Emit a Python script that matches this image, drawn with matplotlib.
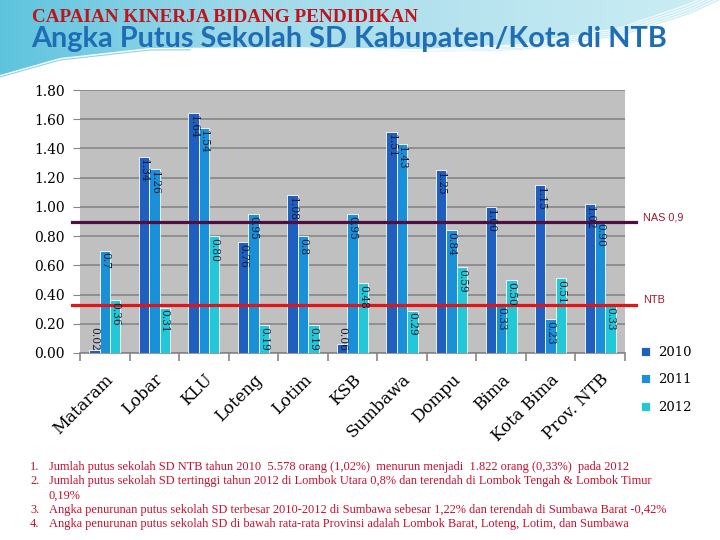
import numpy as np
import matplotlib
matplotlib.use('Agg')
import matplotlib.pyplot as plt
from matplotlib.colors import LinearSegmentedColormap

# data (strings kept as printed on the bars)
regions = ['Mataram', 'Lobar', 'KLU', 'Loteng', 'Lotim', 'KSB', 'Sumbawa',
           'Dompu', 'Bima', 'Kota Bima', 'Prov. NTB']
lab2010 = ['0.02', '1.34', '1.64', '0.76', '1.08', '0.06', '1.51', '1.25', '1.00', '1.15', '1.02']
lab2011 = ['0.7', '1.26', '1.54', '0.95', '0.8', '0.95', '1.43', '0.84', '0.33', '0.23', '0.90']
lab2012 = ['0.36', '0.31', '0.80', '0.19', '0.19', '0.48', '0.29', '0.59', '0.50', '0.51', '0.33']
years = ['2010', '2011', '2012']
nas_level = 0.9
ntb_level = 0.33

notes = [
    ('1.', 'Jumlah putus sekolah SD NTB tahun 2010  5.578 orang (1,02%)  menurun menjadi  1.822 orang (0,33%)  pada 2012'),
    ('2.', 'Jumlah putus sekolah SD tertinggi tahun 2012 di Lombok Utara 0,8% dan terendah di Lombok Tengah & Lombok Timur'),
    ('', '0,19%'),
    ('3.', 'Angka penurunan putus sekolah SD terbesar 2010-2012 di Sumbawa sebesar 1,22% dan terendah di Sumbawa Barat -0,42%'),
    ('4.', 'Angka penurunan putus sekolah SD di bawah rata-rata Provinsi adalah Lombok Barat, Loteng, Lotim, dan Sumbawa'),
]

colors = ['#1f5fbf', '#1a90d8', '#22c8d8']
serif = 'DejaVu Serif'

fig = plt.figure(figsize=(7.2, 5.4), dpi=100)

# background swoosh at the top (decoration only)
bg = fig.add_axes([0, 0, 1, 1], zorder=-5)
bg.set_xlim(0, 720)
bg.set_ylim(540, 0)
bg.axis('off')
cmap = LinearSegmentedColormap.from_list('sky', ['#5ec4de', '#9fd9ea', '#b8e4ef', '#cdeef5'])
grad = np.linspace(0, 1, 256).reshape(1, -1)
im = bg.imshow(grad, extent=[0, 720, 80, 0], cmap=cmap, aspect='auto')
xs = np.linspace(0, 720, 300)
edge = np.interp(xs, [0, 60, 150, 300, 420, 520, 620, 690, 720],
                 [75, 58, 48, 47, 52, 50, 36, 14, 0])
clip = bg.fill_between(xs, 0, edge, color='none')
im.set_clip_path(clip.get_paths()[0], transform=bg.transData)
right = xs > 330
for k in range(4):
    off = 2 + 3 * k
    bg.plot(xs[right], edge[right] - off * (xs[right] - 330) / 390, color='white', lw=0.8, alpha=0.85)
bg.plot(xs[:80], edge[:80] + 2, color='#8fd3e6', lw=0.8)

ax = fig.add_axes([80 / 720, 1 - 353 / 540, 545 / 720, 263 / 540])
ax.set_facecolor('#c0c0c0')
x = np.arange(len(regions))
w = 0.21
series = [lab2010, lab2011, lab2012]
for i, labs in enumerate(series):
    vals = [float(s) for s in labs]
    pos = x + (i - 1) * w
    ax.bar(pos, vals, width=w, color=colors[i], edgecolor='white', linewidth=0.6,
           label=years[i], zorder=3)
    for px, v, s in zip(pos, vals, labs):
        ax.text(px, max(v - 0.012, 0.178), s, rotation=-90, ha='center', va='top',
                fontsize=7.7, family=serif, color='#141a33', zorder=5)

ax.set_ylim(0, 1.8)
ax.set_xlim(-0.5, len(regions) - 0.5)
ax.set_yticks(np.arange(0, 1.81, 0.2))
ax.set_yticklabels([f'{t:.2f}' for t in np.arange(0, 1.81, 0.2)], family=serif, fontsize=10)
ax.yaxis.grid(True, color='#868686', linewidth=1.2, zorder=0)
ax.set_axisbelow(True)
ax.tick_params(axis='y', length=5, color='#868686', pad=6)
ax.set_xticks(x)
ax.set_xticklabels(regions, rotation=45, ha='right', va='top', rotation_mode='anchor',
                   family=serif, fontsize=12)
ax.set_xticks(np.arange(-0.5, len(regions), 1), minor=True)
ax.tick_params(axis='x', which='major', length=0, pad=13)
ax.tick_params(axis='x', which='minor', length=6, color='#868686', width=1.2)
for sp in ['top', 'right', 'left']:
    ax.spines[sp].set_visible(False)
ax.spines['bottom'].set_color('#868686')
ax.spines['bottom'].set_linewidth(1.2)

# reference lines
ax.axhline(nas_level, xmin=-0.015, xmax=1.02, color='#4d1040', lw=2.3, clip_on=False, zorder=4)
ax.axhline(ntb_level, xmin=-0.015, xmax=1.02, color='#e01515', lw=2.3, clip_on=False, zorder=4)
fig.text(643 / 720, 1 - 217 / 540, 'NAS 0,9', family='Liberation Sans', fontsize=7.8,
         color='#a01830', va='center')
fig.text(643 / 720, 1 - 300 / 540, 'NTB', family='Liberation Sans', fontsize=7.8,
         color='#a01830', va='center')

ax.legend(loc='upper left', bbox_to_anchor=(629 / 720, 1 - 334 / 540),
          bbox_transform=fig.transFigure, frameon=False, handlelength=0.7,
          handleheight=0.7, labelspacing=1.1, handletextpad=0.6,
          prop={'family': serif, 'size': 9.5})

# titles
fig.text(32 / 720, 1 - 22 / 540, 'CAPAIAN KINERJA BIDANG PENDIDIKAN', family='Liberation Serif',
         fontsize=13.8, weight='bold', color='#c0141c', va='baseline')
fig.text(31 / 720, 1 - 47 / 540, 'Angka Putus Sekolah SD Kabupaten/Kota di NTB', family='Lato',
         fontsize=20.8, weight='bold', color='#1f6db5', va='baseline')

# notes
for k, (num, txt) in enumerate(notes):
    yy = 1 - (467 + 14.3 * k) / 540
    if num:
        fig.text(30 / 720, yy, num, family='Liberation Serif', fontsize=8.9,
                 color='#c8102e', va='center')
    fig.text(49 / 720, yy, txt, family='Liberation Serif', fontsize=8.9,
             color='#c8102e', va='center')

fig.savefig('out.png', dpi=100)
